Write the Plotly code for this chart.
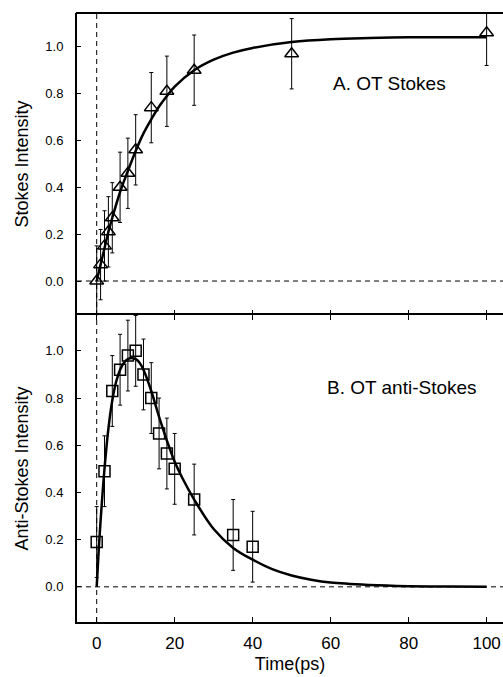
import plotly.graph_objects as go

# Stokes (panel A) measurements
stokes_t = [0, 1, 2, 3, 4, 6, 8, 10, 14, 18, 25, 50, 100]
stokes_y = [0.0, 0.07, 0.15, 0.21, 0.27, 0.40, 0.46, 0.56, 0.74, 0.81, 0.90, 0.97, 1.06]
stokes_err = [0.15, 0.15, 0.15, 0.15, 0.15, 0.15, 0.15, 0.15, 0.15, 0.15, 0.15, 0.15, 0.14]

# Stokes fitted curve
stokes_fit_t = [0, 1, 2, 3, 4, 6, 8, 10, 12, 14, 16, 18, 20, 25, 30, 35, 40, 50, 60, 70, 80, 100]
stokes_fit_y = [0.0, 0.07, 0.14, 0.21, 0.27, 0.38, 0.47, 0.555, 0.63, 0.69, 0.745, 0.79,
                0.83, 0.90, 0.945, 0.975, 0.995, 1.02, 1.032, 1.037, 1.04, 1.04]

# anti-Stokes (panel B) measurements
anti_t = [0, 2, 4, 6, 8, 10, 12, 14, 16, 18, 20, 25, 35, 40]
anti_y = [0.19, 0.49, 0.83, 0.92, 0.98, 1.00, 0.90, 0.80, 0.65, 0.565, 0.50, 0.37, 0.22, 0.17]
anti_err = [0.15] * 14

# anti-Stokes fitted curve
anti_fit_t = [0, 0.5, 1, 2, 3, 4, 5, 6, 7, 8, 9, 10, 11, 12, 14, 16, 18, 20, 22, 25,
              30, 35, 40, 45, 50, 55, 60, 70, 80, 90, 100]
anti_fit_y = [0.0, 0.15, 0.28, 0.50, 0.67, 0.79, 0.87, 0.92, 0.95, 0.965, 0.97, 0.965,
              0.95, 0.92, 0.83, 0.72, 0.62, 0.53, 0.46, 0.37, 0.245, 0.165, 0.115, 0.075,
              0.048, 0.03, 0.018, 0.008, 0.003, 0.001, 0.0]

x_ticks = [0, 20, 40, 60, 80, 100]
y_ticks = [0.0, 0.2, 0.4, 0.6, 0.8, 1.0]

FONT = "Liberation Sans, Arial, sans-serif"

fig = go.Figure()

# Panel A (top): xaxis2 / yaxis2
fig.add_trace(go.Scatter(
    x=stokes_fit_t, y=stokes_fit_y, mode="lines", line_shape="spline",
    line=dict(color="black", width=2.5), xaxis="x2", yaxis="y2", showlegend=False))
fig.add_trace(go.Scatter(
    x=stokes_t, y=stokes_y, mode="markers", xaxis="x2", yaxis="y2", showlegend=False,
    marker=dict(symbol="triangle-up-open", size=12, color="black", line=dict(width=1.5)),
    error_y=dict(type="data", array=stokes_err, color="black", thickness=1, width=2)))

# Panel B (bottom): xaxis / yaxis
fig.add_trace(go.Scatter(
    x=anti_fit_t, y=anti_fit_y, mode="lines", line_shape="spline",
    line=dict(color="black", width=2.5), xaxis="x", yaxis="y", showlegend=False))
fig.add_trace(go.Scatter(
    x=anti_t, y=anti_y, mode="markers", xaxis="x", yaxis="y", showlegend=False,
    marker=dict(symbol="square-open", size=11, color="black", line=dict(width=1.5)),
    error_y=dict(type="data", array=anti_err, color="black", thickness=1, width=2)))

split = 307 / 609
x_range = [-5.05, 104.2]

common_x = dict(range=x_range, tickvals=x_ticks, ticks="inside", ticklen=5,
                tickwidth=1, tickcolor="black", linecolor="black",
                linewidth=2, showgrid=False, zeroline=False)
common_y = dict(tickvals=y_ticks, tickformat=".1f", ticks="inside", ticklen=4,
                tickwidth=1, tickcolor="black", showline=True, linecolor="black",
                linewidth=2, showgrid=False, zeroline=False, ticklabelstandoff=9,
                tickfont=dict(size=13, color="black"),
                title_font=dict(size=18, color="black"), title_standoff=12)

dash_line = dict(color="black", width=1, dash="5px,4px")

fig.update_layout(
    width=503, height=677,
    margin=dict(l=77, r=0, t=13, b=55),
    paper_bgcolor="white", plot_bgcolor="white",
    font=dict(family=FONT, color="black"),
    xaxis=dict(**common_x, domain=[0, 1], anchor="y", showline=True, mirror="ticks",
               ticklabelstandoff=5, tickfont=dict(size=17, color="black"),
               title=dict(text="Time(ps)", font=dict(size=18, color="black"), standoff=5)),
    yaxis=dict(**common_y, domain=[0, split], anchor="x", range=[-0.149, 1.152],
               title_text="Anti-Stokes Intensity"),
    xaxis2=dict(**common_x, domain=[0, 1], anchor="y2", showline=False,
                showticklabels=False),
    yaxis2=dict(**common_y, domain=[split, 1], anchor="x2", range=[-0.145, 1.144],
                title_text="Stokes Intensity"),
    shapes=[
        # frame edge along the top of panel A
        dict(type="line", xref="paper", yref="paper", x0=-0.0025, x1=1, y0=1, y1=1,
             line=dict(color="black", width=2)),
        # zero-time and zero-intensity reference lines
        dict(type="line", xref="x", yref="paper", x0=0, x1=0, y0=0, y1=1,
             line=dash_line, layer="below"),
        dict(type="line", xref="paper", yref="y", x0=0, x1=1, y0=0, y1=0,
             line=dash_line, layer="below"),
        dict(type="line", xref="paper", yref="y2", x0=0, x1=1, y0=0, y1=0,
             line=dash_line, layer="below"),
    ],
    annotations=[
        dict(text="A. OT Stokes", x=75.2, y=0.845, xref="x2", yref="y2",
             showarrow=False, font=dict(size=19, color="black")),
        dict(text="B. OT anti-Stokes", x=78.3, y=0.846, xref="x", yref="y",
             showarrow=False, font=dict(size=19, color="black")),
    ],
)

fig.write_html("out.html")
